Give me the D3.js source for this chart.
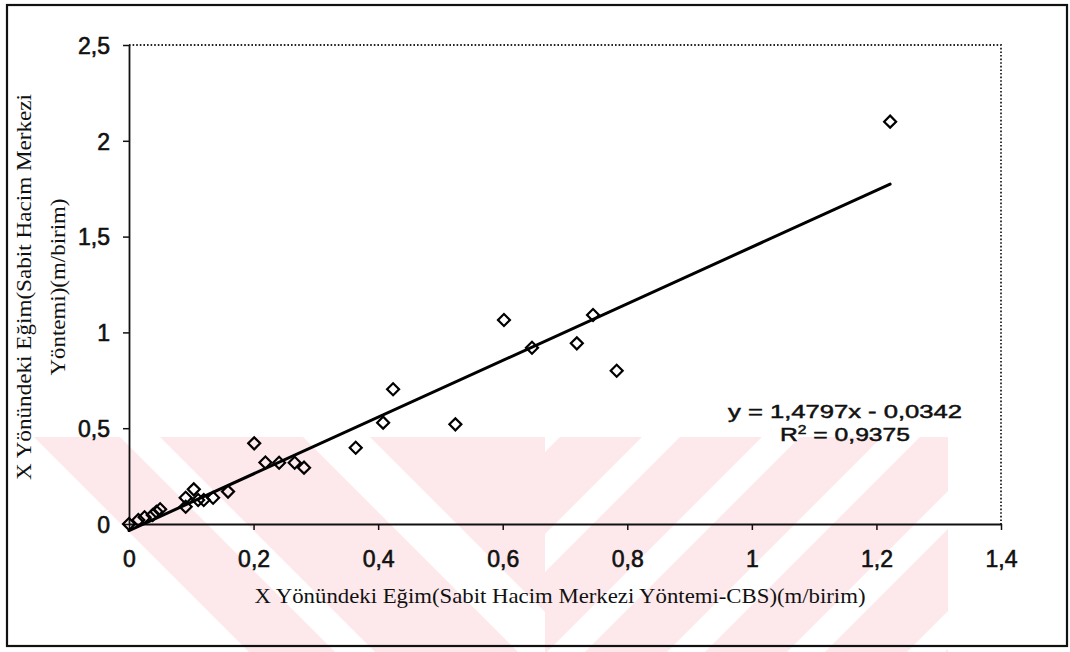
<!DOCTYPE html>
<html><head><meta charset="utf-8">
<script src="https://cdn.jsdelivr.net/npm/d3@7"></script>
<style>body{margin:0;background:#fff;} svg{display:block}</style>
</head><body><svg id="c" width="1070" height="652"></svg>
<script>
// ---- data ----
const xValues = [0, 0.015, 0.025, 0.038, 0.044, 0.050, 0.091, 0.091, 0.104, 0.111, 0.120, 0.135, 0.159,
  0.201, 0.219, 0.241, 0.266, 0.281, 0.364, 0.408, 0.424, 0.524, 0.602, 0.647, 0.719, 0.745, 0.783, 1.222];
const yValues = [0, 0.021, 0.035, 0.047, 0.064, 0.077, 0.090, 0.137, 0.181, 0.125, 0.125, 0.137, 0.169,
  0.421, 0.321, 0.320, 0.320, 0.294, 0.398, 0.529, 0.703, 0.520, 1.065, 0.920, 0.943, 1.091, 0.800, 2.100];
const xTicks = [0, 0.2, 0.4, 0.6, 0.8, 1, 1.2, 1.4];
const yTicks = [0, 0.5, 1, 1.5, 2, 2.5];
const trendSlope = 1.4797;
const trendIntercept = -0.0342;
const equationText = "y = 1,4797x - 0,0342";
const r2Label = "R";
const r2Value = " = 0,9375";
const xTitle = "X Yönündeki Eğim(Sabit Hacim Merkezi Yöntemi-CBS)(m/birim)";
const yTitleLines = ["X Yönündeki Eğim(Sabit Hacim Merkezi", "Yöntemi)(m/birim)"];

// ---- layout ----
const svg = d3.select("#c");
const L = 129, R = 1001, T = 45, B = 524;
const x = d3.scaleLinear().domain([0, 1.4]).range([L, R]);
const y = d3.scaleLinear().domain([0, 2.5]).range([B, T]);
const fmt = d => String(+d.toFixed(1)).replace(".", ",");

// faint pink watermark of the scanned page (decoration only)
const pink = "#fde9ec";
const wmTop = 437, wmH = 215;
const defs = svg.append("defs");
defs.append("clipPath").attr("id", "wl").append("rect").attr("x", 0).attr("y", wmTop).attr("width", 545).attr("height", wmH);
defs.append("clipPath").attr("id", "wr").append("rect").attr("x", 545).attr("y", wmTop).attr("width", 403).attr("height", wmH);
const leftBands = [[34, 120], [160, 303], [370, 560]];
const gl = svg.append("g").attr("clip-path", "url(#wl)");
leftBands.forEach(([a, b]) => gl.append("path").attr("fill", pink)
  .attr("d", `M${a},${wmTop}L${b},${wmTop}L${b + wmH},${wmTop + wmH}L${a + wmH},${wmTop + wmH}Z`));
const gr = svg.append("g").attr("clip-path", "url(#wr)");
for (let k = 0; k < 6; k++) {
  const a = 560 + k * 120, b = a + 82;
  gr.append("path").attr("fill", pink)
    .attr("d", `M${a},${wmTop}L${b},${wmTop}L${b - wmH},${wmTop + wmH}L${a - wmH},${wmTop + wmH}Z`);
}

// outer border
svg.append("rect").attr("x", 7).attr("y", 5).attr("width", 1060).attr("height", 641)
  .attr("fill", "none").attr("stroke", "#111").attr("stroke-width", 2.2);

// plot area dotted border
svg.append("path").attr("d", `M${L},${T}H${R}V${B}`).attr("fill", "none")
  .attr("stroke", "#222").attr("stroke-width", 1.8).attr("stroke-dasharray", "1.6,2");

// axes
const xAxis = svg.append("g").attr("transform", `translate(0,${B})`)
  .call(d3.axisBottom(x).tickValues(xTicks).tickSize(6).tickSizeOuter(0).tickFormat(fmt));
const yAxis = svg.append("g").attr("transform", `translate(${L},0)`)
  .call(d3.axisLeft(y).tickValues(yTicks).tickSize(6).tickSizeOuter(0).tickFormat(fmt));
[xAxis, yAxis].forEach(g => {
  g.selectAll("path.domain").attr("stroke", "#111").attr("stroke-width", 1.8);
  g.selectAll(".tick line").attr("stroke", "#111").attr("stroke-width", 1.5);
  g.selectAll(".tick text").attr("fill", "#111").attr("stroke", "#111").attr("stroke-width", 0.6)
    .style("font-family", "'Liberation Sans', Arial, sans-serif").style("font-size", "23px");
});
xAxis.selectAll(".tick text").attr("y", 0).attr("dy", 0).attr("transform", "translate(0,43)");
yAxis.selectAll(".tick text").attr("x", -19).attr("dy", "0.36em");

// trendline
const xMin = d3.min(xValues), xMax = d3.max(xValues);
svg.append("line")
  .attr("x1", x(xMin)).attr("y1", y(trendSlope * xMin + trendIntercept))
  .attr("x2", x(xMax)).attr("y2", y(trendSlope * xMax + trendIntercept))
  .attr("stroke", "#000").attr("stroke-width", 3).attr("stroke-linecap", "round");

// points
const sym = d3.symbol(d3.symbolSquare, 72);
svg.append("g").selectAll("path").data(xValues.map((v, i) => [v, yValues[i]])).join("path")
  .attr("d", sym).attr("transform", d => `translate(${x(d[0])},${y(d[1])}) rotate(45)`)
  .attr("fill", "none").attr("stroke", "#000").attr("stroke-width", 2.2);

// equation
const eq = svg.append("g").style("font-family", "'Liberation Sans', Arial, sans-serif")
  .attr("fill", "#111").attr("stroke", "#111").attr("stroke-width", 0.5);
eq.append("text").attr("x", 845).attr("y", 418).attr("text-anchor", "middle")
  .style("font-size", "19px").attr("textLength", 234).attr("lengthAdjust", "spacingAndGlyphs").text(equationText);
const r2 = eq.append("text").attr("x", 845).attr("y", 441).attr("text-anchor", "middle")
  .style("font-size", "19px").attr("textLength", 130).attr("lengthAdjust", "spacingAndGlyphs");
r2.append("tspan").text(r2Label);
r2.append("tspan").attr("dy", -7).style("font-size", "12px").text("2");
r2.append("tspan").attr("dy", 7).text(r2Value);

// axis titles
const serif = "'Liberation Serif', 'Times New Roman', serif";
svg.append("text").attr("x", 560).attr("y", 603).attr("text-anchor", "middle")
  .style("font-family", serif).style("font-size", "21px").attr("fill", "#111")
  .attr("textLength", 611).attr("lengthAdjust", "spacingAndGlyphs").text(xTitle);
const yt = svg.append("g").attr("transform", "translate(0,287) rotate(-90)");
yt.append("text").attr("x", 0).attr("y", 31).attr("text-anchor", "middle")
  .style("font-family", serif).style("font-size", "21px").attr("fill", "#111")
  .attr("textLength", 386).attr("lengthAdjust", "spacingAndGlyphs").text(yTitleLines[0]);
yt.append("text").attr("x", 0).attr("y", 65).attr("text-anchor", "middle")
  .style("font-family", serif).style("font-size", "21px").attr("fill", "#111")
  .attr("textLength", 177).attr("lengthAdjust", "spacingAndGlyphs").text(yTitleLines[1]);
</script></body></html>
